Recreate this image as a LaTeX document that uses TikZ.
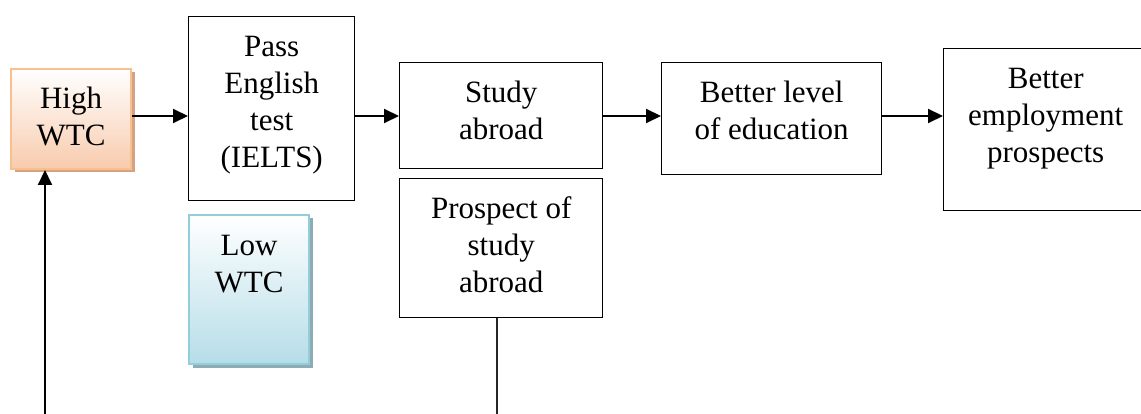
\documentclass[tikz,border=0pt]{standalone}
\usepackage{fontspec}
\setmainfont{Liberation Serif}
\usetikzlibrary{arrows.meta,shadows}

\definecolor{peachedge}{HTML}{F9BF8F}
\definecolor{peachfill}{HTML}{F8CBAD}
\definecolor{peachshadow}{HTML}{D3A384}
\definecolor{blueedge}{HTML}{92CDDC}
\definecolor{bluefill}{HTML}{B6DDE8}
\definecolor{blueshadow}{HTML}{8FABB4}

% top-aligned, centred box text: width, height, lines
\newcommand{\boxtext}[3]{\parbox[c][#2pt][t]{#1pt}{\centering\rule{0pt}{40pt}#3}}

\tikzset{
  boxfont/.style={font=\fontsize{31}{37}\selectfont},
  plainbox/.style={boxfont, draw=black, line width=1.4pt, inner sep=0pt, anchor=north west, fill=white},
  highbox/.style={boxfont, draw=peachedge, line width=2pt, inner sep=0pt, anchor=north west,
    top color=white, bottom color=peachfill,
    drop shadow={shadow xshift=3.5pt, shadow yshift=-3.5pt, fill=peachshadow, opacity=1}},
  lowbox/.style={boxfont, draw=blueedge, line width=2pt, inner sep=0pt, anchor=north west,
    top color=white, bottom color=bluefill,
    drop shadow={shadow xshift=3.5pt, shadow yshift=-3.5pt, fill=blueshadow, opacity=1}},
  flow/.style={line width=2pt, -{Triangle[length=15pt,width=14pt]}},
  plainline/.style={line width=1.6pt, draw=black!85},
}

\begin{document}
\begin{tikzpicture}[x=1pt, y=-1pt]
  \useasboundingbox (0,0) rectangle (1141,414);
  \clip (0,0) rectangle (1141,414);

  \node[highbox] (high) at (10,68) {\boxtext{120}{100}{High\\WTC}};
  \node[lowbox] (low) at (188,214) {\boxtext{120}{149}{Low\\WTC}};
  \node[plainbox] (pass) at (188,16) {\boxtext{166}{184}{Pass\\English\\test\\(IELTS)}};
  \node[plainbox] (study) at (399,62) {\boxtext{203}{106}{Study\\abroad}};
  \node[plainbox] (prospect) at (399,178) {\boxtext{203}{139}{Prospect of\\study\\abroad}};
  \node[plainbox] (educ) at (661,62) {\boxtext{220}{112}{Better level\\of education}};
  \node[plainbox] (employ) at (943,48) {\boxtext{204}{162}{Better\\employment\\prospects}};

  % horizontal chain
  \coordinate (row) at (0,116);
  \draw[flow] (high.east |- row) -- (pass.west |- row);
  \draw[flow] (pass.east |- row) -- (study.west |- row);
  \draw[flow] (study.east |- row) -- (educ.west |- row);
  \draw[flow] (educ.east |- row) -- (employ.west |- row);

  % feedback lines from the bottom edge
  \coordinate (loopstart) at (45,416);
  \draw[flow] (loopstart) -- (loopstart |- high.south);
  \coordinate (prospectfoot) at (497,416);
  \draw[plainline] (prospectfoot |- prospect.south) -- (prospectfoot);
\end{tikzpicture}
\end{document}
